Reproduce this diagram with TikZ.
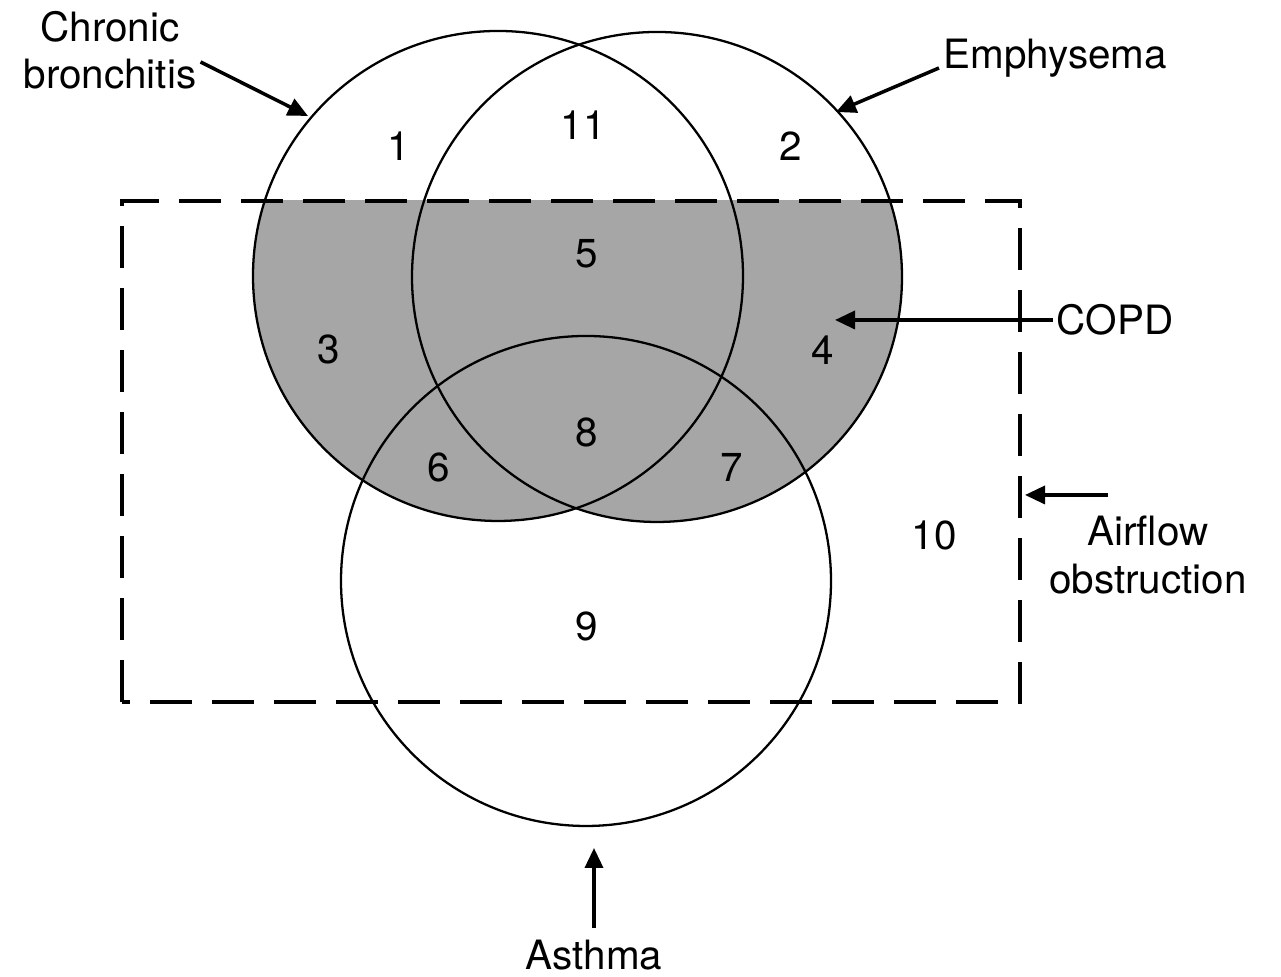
\documentclass[tikz,border=0pt]{standalone}
\usepackage{fontspec}
\setmainfont{TeX Gyre Heros}
\usepackage{tikz}
\usetikzlibrary{arrows.meta, positioning}

\tikzset{
  setcircle/.style={line width=0.65pt},
  label text/.style={font=\fontsize{11.5}{13.5}\selectfont, align=center, inner sep=1pt},
  pointer/.style={line width=1pt, -{Stealth[length=2mm, width=1.8mm, inset=0pt]}}
}

\begin{document}
\begin{tikzpicture}
  \useasboundingbox (0,0) rectangle (12.81,9.77);

  % Shaded part of the two upper circles
  \begin{scope}
    \clip (1.22,2.75) rectangle (10.20,7.76);
    \fill[black!35] (4.98,7.01) circle (2.45);
    \fill[black!35] (6.57,7.00) circle (2.45);
  \end{scope}

  % Circles
  \draw[setcircle] (4.98,7.01) circle (2.45);
  \draw[setcircle] (6.57,7.00) circle (2.45);
  \draw[setcircle] (5.86,3.96) circle (2.45);

  % Airflow box
  \draw[line width=0.9pt, dash pattern=on 4.2mm off 2mm] (1.22,2.75) rectangle (10.20,7.76);

  % Region numbers
  \foreach \x/\y/\txt in {3.99/8.31/1, 5.83/8.52/11, 7.91/8.31/2, 5.87/7.23/5, 3.29/6.27/3,
      8.23/6.27/4, 5.87/5.44/8, 4.39/5.09/6, 7.32/5.09/7, 9.34/4.41/10, 5.87/3.51/9} {
    \node[label text] (n\txt) at (\x,\y) {\txt};
  }

  % Labels
  \node[label text] (chron) at (1.10,9.27) {Chronic\\bronchitis};
  \node[label text] (emph) at (10.55,9.19) {Emphysema};
  \node[label text] (copd) at (11.15,6.57) {COPD};
  \node[label text] (airflow) at (11.48,4.22) {Airflow\\obstruction};
  \node[label text] (asthma) at (5.94,0.22) {Asthma};

  % Arrows
  \coordinate (chronTip) at (3.08,8.61);
  \coordinate (emphTip) at (8.36,8.65);
  \coordinate (copdTip) at (8.35,6.57);
  \coordinate (airTail) at (11.08,4.82);
  \coordinate (airTip) at (10.25,4.82);
  \coordinate (asthTip) at (5.94,1.29);

  \draw[pointer] (chron.east) ++(0,-0.12) -- (chronTip);
  \draw[pointer] (emph.west) ++(0,-0.1) -- (emphTip);
  \draw[pointer] (copd.west) -- (copdTip);
  \draw[pointer] (airTail) -- (airTip);
  \draw[pointer] (asthma.north) ++(0,0.08) -- (asthTip);
\end{tikzpicture}
\end{document}
